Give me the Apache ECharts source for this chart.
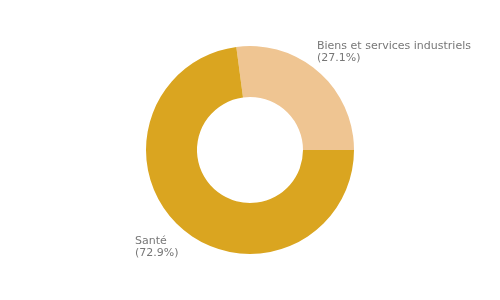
<!DOCTYPE html>
<html><head><meta charset="utf-8">
<script src="https://cdn.jsdelivr.net/npm/echarts@6/dist/echarts.min.js"></script>
<style>html,body{margin:0;padding:0;background:#fff}#c{width:500px;height:300px}</style>
</head><body><div id="c"></div>
<script>
const categories = ["Biens et services industriels", "Santé"];
const values = [27.1, 72.9];
const colors = ["#efc592", "#daa520"];
const labelPos = [[317, 40], [135, 235]];

const chart = echarts.init(document.getElementById('c'), null, {renderer: 'canvas'});
chart.setOption({
  animation: false,
  series: [{
    type: 'pie',
    center: [250, 150],
    radius: [53, 104],
    startAngle: values[0] * 3.6,
    clockwise: true,
    avoidLabelOverlap: false,
    data: categories.map((n, i) => ({name: n, value: values[i], itemStyle: {color: colors[i]}})),
    label: {
      show: true,
      position: 'outside',
      formatter: p => p.name + '\n(' + p.value.toFixed(1) + '%)',
      color: '#777',
      fontFamily: 'DejaVu Sans',
      fontSize: 11,
      lineHeight: 12,
      align: 'left',
      overflow: 'none',
      width: 300
    },
    labelLine: {show: false},
    labelLayout: p => ({x: labelPos[p.dataIndex][0], y: labelPos[p.dataIndex][1], align: 'left', verticalAlign: 'top'}),
    emphasis: {disabled: true}
  }]
});
</script></body></html>
